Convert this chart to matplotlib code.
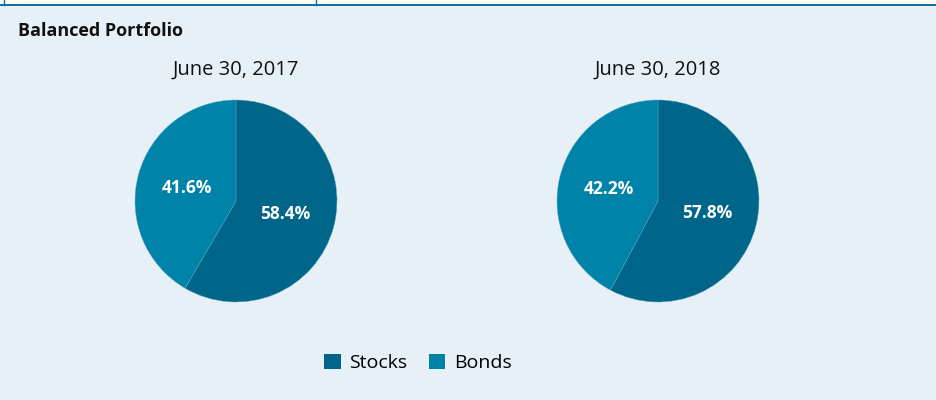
import matplotlib.pyplot as plt
from matplotlib.patches import Patch

# chart data
dates = ["June 30, 2017", "June 30, 2018"]
categories = ["Stocks", "Bonds"]
stocks = [58.4, 57.8]
bonds = [41.6, 42.2]

bg = "#e7f0f6"
colors = ["#006689", "#0083a9"]
W, H = 936, 400

plt.rcParams["font.family"] = ["Open Sans", "DejaVu Sans"]

fig = plt.figure(figsize=(W / 100, H / 100), dpi=100)
fig.patch.set_facecolor(bg)

# top tab strip: white band, rule and tab borders
fig.add_artist(plt.Rectangle((0, 1 - 4 / H), 1, 4 / H, transform=fig.transFigure,
                             facecolor="white", edgecolor="none"))
fig.add_artist(plt.Line2D([0, 1], [1 - 4.5 / H] * 2, transform=fig.transFigure,
                          color="#0e6f97", lw=1.4))
for xp in [4, 316]:
    fig.add_artist(plt.Line2D([xp / W] * 2, [1 - 4.5 / H, 1], transform=fig.transFigure,
                              color="#0e6f97", lw=1.0))

fig.text(18 / W, 1 - 31 / H, "Balanced Portfolio", fontsize=13, fontweight="bold",
         color="#111111", va="center", ha="left")

centers = [236, 658]
r = 101
for i, cx in enumerate(centers):
    ax = fig.add_axes([(cx - r) / W, (H - 201 - r) / H, 2 * r / W, 2 * r / H])
    ax.set_facecolor("none")
    wedges, texts, autotexts = ax.pie(
        [stocks[i], bonds[i]], colors=colors, startangle=90, counterclock=False,
        autopct="%.1f%%", pctdistance=0.5,
        wedgeprops=dict(edgecolor="#5aa3bf", linewidth=0.3),
        textprops=dict(color="white", fontsize=12.5, fontweight="bold"))
    ax.set_xlim(-1, 1)
    ax.set_ylim(-1, 1)
    ax.set_aspect("equal")
    fig.text(cx / W, 1 - 70 / H, dates[i], fontsize=14.5, color="#111111",
             ha="center", va="center")

handles = [Patch(facecolor=c, edgecolor="none") for c in colors]
fig.legend(handles, categories, loc="center", bbox_to_anchor=(418 / W, 1 - 363 / H),
           ncol=2, frameon=False, fontsize=14, handlelength=0.85, handleheight=0.85,
           handletextpad=0.45, columnspacing=1.1)

fig.savefig("out.png", dpi=100, facecolor=bg)
